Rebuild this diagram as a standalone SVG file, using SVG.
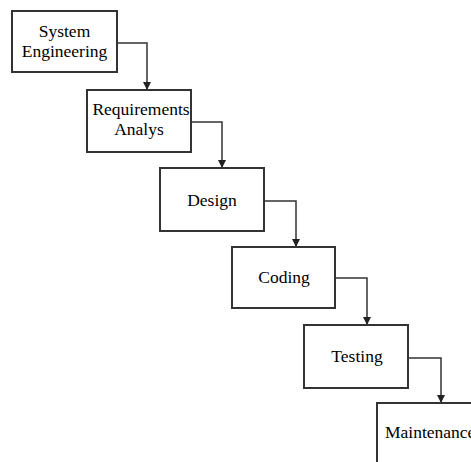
<svg xmlns="http://www.w3.org/2000/svg" width="471" height="462" viewBox="0 0 471 462">
<style>
.box{fill:#fff;stroke:#333;stroke-width:2}
.lbl{font-family:"Liberation Serif","Times New Roman",serif;font-size:17.5px;fill:#000;text-anchor:middle}
.con{fill:none;stroke:#333;stroke-width:1.5}
</style>
<defs>
<marker id="ah" viewBox="0 0 10 10" refX="10" refY="5" markerWidth="8" markerHeight="8" markerUnits="userSpaceOnUse" orient="auto">
<path d="M0,0 L10,5 L0,10 Z" fill="#222"/>
</marker>
</defs>
<rect width="471" height="462" fill="#fff"/>
<g id="connectors">
<path class="con" d="M117,43 H147 V90" marker-end="url(#ah)"/>
<path class="con" d="M191,122 H222 V168" marker-end="url(#ah)"/>
<path class="con" d="M264,201 H296 V247" marker-end="url(#ah)"/>
<path class="con" d="M335,278 H367 V325" marker-end="url(#ah)"/>
<path class="con" d="M408,358 H441 V403" marker-end="url(#ah)"/>
</g>
<g id="system-engineering">
<rect class="box" x="12" y="11" width="105" height="61"/>
<text class="lbl" x="64.5" y="37">System</text>
<text class="lbl" x="64.5" y="57">Engineering</text>
</g>
<g id="requirements-analys">
<rect class="box" x="87" y="90" width="104" height="62"/>
<text class="lbl" x="141" y="115">Requirements</text>
<text class="lbl" x="139" y="135">Analys</text>
</g>
<g id="design">
<rect class="box" x="160" y="168" width="104" height="63"/>
<text class="lbl" x="212" y="206">Design</text>
</g>
<g id="coding">
<rect class="box" x="232" y="247" width="103" height="61"/>
<text class="lbl" x="284" y="283">Coding</text>
</g>
<g id="testing">
<rect class="box" x="304" y="325" width="104" height="63"/>
<text class="lbl" x="357" y="362">Testing</text>
</g>
<g id="maintenance">
<rect class="box" x="377" y="403" width="120" height="80"/>
<text class="lbl" x="385" y="438" style="text-anchor:start">Maintenance</text>
</g>
</svg>
